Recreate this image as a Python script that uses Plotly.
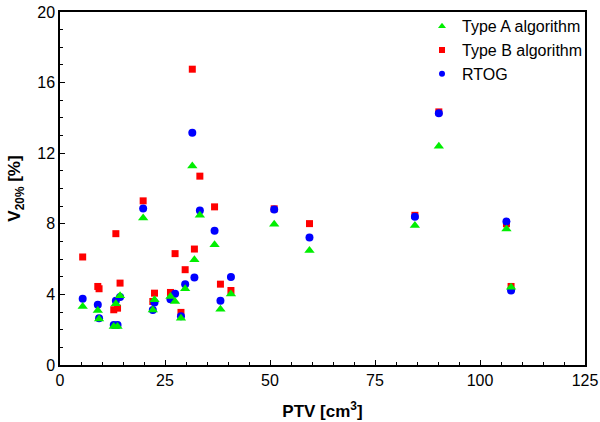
import plotly.graph_objects as go

ptv = [5.4, 9.0, 9.3, 12.8, 13.3, 13.7, 14.3, 19.8, 22.1, 22.5, 26.3, 27.4, 28.8,
       29.8, 31.5, 32.0, 33.3, 36.8, 38.2, 40.7, 51.0, 59.4, 84.5, 90.2, 106.3, 107.4]
type_a = [3.31, 3.09, 2.60, 2.18, 3.47, 2.18, 3.92, 8.33, 3.12, 3.69, 3.88, 3.60, 2.65,
          4.32, 11.27, 5.97, 8.48, 6.82, 3.16, 4.02, 7.97, 6.49, 7.90, 12.39, 7.71, 4.41]
type_b = [6.12, 4.45, 4.32, 3.13, 7.44, 3.22, 4.64, 9.30, 3.60, 4.07, 4.11, 6.31, 2.98,
          5.40, 16.76, 6.57, 10.70, 8.96, 4.58, 4.22, 8.85, 8.01, 8.48, 14.34, 8.00, 4.45]
rtog = [3.75, 3.41, 2.65, 2.27, 3.64, 2.27, 3.85, 8.86, 3.12, 3.54, 3.73, 4.03, 2.76,
        4.58, 13.16, 4.96, 8.75, 7.61, 3.64, 4.98, 8.81, 7.23, 8.40, 14.26, 8.13, 4.22]

series_names = ["Type A algorithm", "Type B algorithm", "RTOG"]
series_colors = ["#00ee00", "#ff0000", "#0000ff"]
series_symbols = ["triangle-up", "square", "circle"]

x_ticks = [0, 25, 50, 75, 100, 125]
y_ticks = [0, 4, 8, 12, 16, 20]

font = "Liberation Sans, Arial, sans-serif"

fig = go.Figure()
# data traces (drawing order: B, RTOG, A on top)
fig.add_trace(go.Scatter(x=ptv, y=type_b, mode="markers", showlegend=False,
                         name=series_names[1],
                         marker=dict(symbol="square", size=7, color=series_colors[1])))
fig.add_trace(go.Scatter(x=ptv, y=rtog, mode="markers", showlegend=False,
                         name=series_names[2],
                         marker=dict(symbol="circle", size=8, color=series_colors[2])))
fig.add_trace(go.Scatter(x=ptv, y=type_a, mode="markers", showlegend=False,
                         name=series_names[0],
                         marker=dict(symbol="triangle-up", size=9, color=series_colors[0])))
# legend entries with small markers
for i, (nm, col, sym) in enumerate(zip(series_names, series_colors, series_symbols)):
    fig.add_trace(go.Scatter(x=[None], y=[None], mode="markers", name=nm,
                             legendrank=i + 1,
                             marker=dict(symbol=sym, size=6 if sym != "triangle-up" else 7,
                                         color=col)))

axis_common = dict(showline=True, linecolor="black", linewidth=1.5, mirror=True,
                   ticks="inside", ticklen=5, tickwidth=1, tickcolor="black",
                   showgrid=False, zeroline=False,
                   tickfont=dict(family=font, size=16, color="black"))

fig.update_layout(
    width=600, height=422,
    margin=dict(l=60, r=15, t=12, b=57, autoexpand=False),
    paper_bgcolor="white", plot_bgcolor="white",
    font=dict(family=font, color="black"),
    showlegend=True,
    legend=dict(xref="container", yref="container",
                x=0.98, y=0.978, xanchor="right", yanchor="top",
                bgcolor="rgba(0,0,0,0)", borderwidth=0,
                font=dict(family=font, size=16, color="black"),
                tracegroupgap=0),
    xaxis=dict(range=[0, 125], tickvals=x_ticks, automargin=False,
               minor=dict(dtick=5, ticks="inside", ticklen=3, tickcolor="black"),
               title=dict(text="<b>PTV [cm<sup>3</sup>]</b>",
                          font=dict(family=font, size=17, color="black"), standoff=17),
               **axis_common),
    yaxis=dict(range=[0, 20], tickvals=y_ticks, automargin=False,
               minor=dict(dtick=1, ticks="inside", ticklen=3, tickcolor="black"),
               title=dict(text="<b>V<sub>20%</sub> [%]</b>",
                          font=dict(family=font, size=17, color="black"), standoff=12),
               **axis_common),
)

fig.write_html("out.html", config={"displayModeBar": False},
               post_script="document.body.style.margin='0';")
